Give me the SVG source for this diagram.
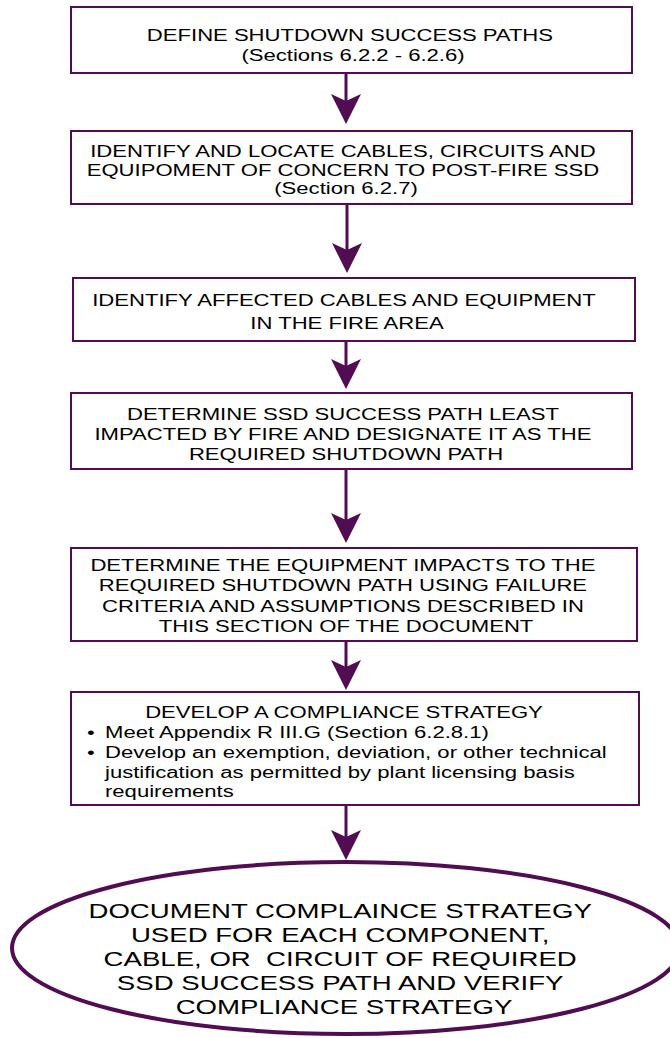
<svg xmlns="http://www.w3.org/2000/svg" width="670" height="1038" viewBox="0 0 670 1038">
  <style>
    .box { fill: #ffffff; stroke: #510c52; stroke-width: 2; }
    .oval { fill: #ffffff; stroke: #510c52; stroke-width: 4; }
    .lbl { font-family: "Liberation Sans", Arial, sans-serif; font-size: 16px; fill: #000000; text-anchor: middle; }
    .big { font-family: "Liberation Sans", Arial, sans-serif; font-size: 20px; fill: #000000; text-anchor: middle; }
    .lft { text-anchor: start; }
    .flow { stroke: #510c52; stroke-width: 3; fill: none; marker-end: url(#head); }
  </style>
  <defs>
    <marker id="head" markerUnits="userSpaceOnUse" viewBox="0 -15 30 30" refX="20" refY="0" markerWidth="30" markerHeight="30" orient="auto">
      <path d="M0,-15 L30,0 L0,15 L7,0 Z" fill="#510c52"/>
    </marker>
  </defs>

  <!-- connectors -->
  <g id="connectors">
    <line class="flow" x1="346" y1="74" x2="346" y2="114"/>
    <line class="flow" x1="347" y1="205" x2="347" y2="263"/>
    <line class="flow" x1="346" y1="342" x2="346" y2="379"/>
    <line class="flow" x1="346" y1="470" x2="346" y2="533"/>
    <line class="flow" x1="346" y1="642" x2="346" y2="680"/>
    <line class="flow" x1="346" y1="806" x2="346" y2="850"/>
  </g>

  <!-- step 1 -->
  <g id="define-paths">
    <rect class="box" x="71" y="7" width="561" height="66"/>
    <text class="lbl" transform="translate(353 41) scale(1.38 1)">
      <tspan x="0" y="0">DEFINE SHUTDOWN SUCCESS PATHS</tspan>
      <tspan x="0" y="20">(Sections 6.2.2 - 6.2.6)</tspan>
    </text>
  </g>

  <!-- step 2 -->
  <g id="identify-cables">
    <rect class="box" x="71" y="131" width="561" height="73"/>
    <text class="lbl" transform="translate(346 157) scale(1.38 1)">
      <tspan x="0" y="0">IDENTIFY AND LOCATE CABLES, CIRCUITS AND</tspan>
      <tspan x="0" y="19">EQUIPOMENT OF CONCERN TO POST-FIRE SSD</tspan>
      <tspan x="0" y="37">(Section 6.2.7)</tspan>
    </text>
  </g>

  <!-- step 3 -->
  <g id="affected-cables">
    <rect class="box" x="73" y="278" width="562" height="63"/>
    <text class="lbl" transform="translate(347 306) scale(1.38 1)">
      <tspan x="0" y="0">IDENTIFY AFFECTED CABLES AND EQUIPMENT</tspan>
      <tspan x="0" y="23">IN THE FIRE AREA</tspan>
    </text>
  </g>

  <!-- step 4 -->
  <g id="least-impacted">
    <rect class="box" x="71" y="393" width="561" height="76"/>
    <text class="lbl" transform="translate(346 420) scale(1.38 1)">
      <tspan x="0" y="0">DETERMINE SSD SUCCESS PATH LEAST</tspan>
      <tspan x="0" y="20">IMPACTED BY FIRE AND DESIGNATE IT AS THE</tspan>
      <tspan x="0" y="40">REQUIRED SHUTDOWN PATH</tspan>
    </text>
  </g>

  <!-- step 5 -->
  <g id="equipment-impacts">
    <rect class="box" x="71" y="548" width="566" height="93"/>
    <text class="lbl" transform="translate(346 571) scale(1.38 1)">
      <tspan x="0" y="0">DETERMINE THE EQUIPMENT IMPACTS TO THE</tspan>
      <tspan x="0" y="20.5">REQUIRED SHUTDOWN PATH USING FAILURE</tspan>
      <tspan x="0" y="41">CRITERIA AND ASSUMPTIONS DESCRIBED IN</tspan>
      <tspan x="0" y="61.5">THIS SECTION OF THE DOCUMENT</tspan>
    </text>
  </g>

  <!-- step 6 -->
  <g id="compliance-strategy">
    <rect class="box" x="71" y="692" width="568" height="113"/>
    <text class="lbl" transform="translate(344 718) scale(1.38 1)">DEVELOP A COMPLIANCE STRATEGY</text>
    <text class="lbl lft" transform="translate(87 738) scale(1.38 1)">•</text>
    <text class="lbl lft" transform="translate(87 758) scale(1.38 1)">•</text>
    <text class="lbl lft" transform="translate(105 738) scale(1.38 1)">
      <tspan x="0" y="0">Meet Appendix R III.G (Section 6.2.8.1)</tspan>
      <tspan x="0" y="20">Develop an exemption, deviation, or other technical</tspan>
      <tspan x="0" y="40">justification as permitted by plant licensing basis</tspan>
      <tspan x="0" y="59">requirements</tspan>
    </text>
  </g>

  <!-- final step -->
  <g id="document-strategy">
    <ellipse class="oval" cx="346" cy="948" rx="334" ry="86"/>
    <text class="big" transform="translate(344 918) scale(1.38 1)">
      <tspan x="0" y="0">DOCUMENT COMPLAINCE STRATEGY</tspan>
      <tspan x="0" y="24">USED FOR EACH COMPONENT,</tspan>
      <tspan x="0" y="48">CABLE, OR&#160; CIRCUIT OF REQUIRED</tspan>
      <tspan x="0" y="72">SSD SUCCESS PATH AND VERIFY</tspan>
      <tspan x="0" y="96">COMPLIANCE STRATEGY</tspan>
    </text>
  </g>
</svg>
